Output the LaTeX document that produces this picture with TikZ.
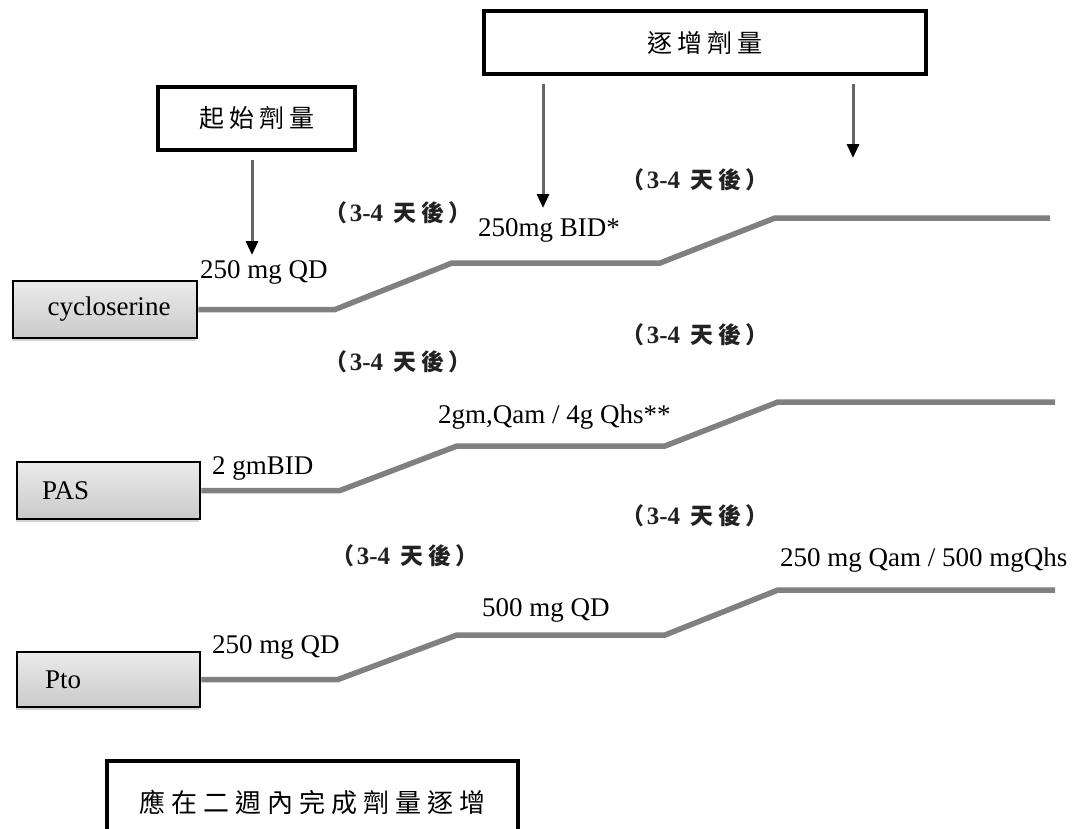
\documentclass[tikz,border=0pt]{standalone}
\usepackage{fontspec}
\setmainfont{Liberation Serif}
\newfontfamily\cjk{Noto Sans CJK TC}
\usetikzlibrary{arrows.meta,shadows}
\definecolor{boxtop}{HTML}{EBEBEB}
\definecolor{boxbot}{HTML}{CACACA}
\definecolor{dosegray}{HTML}{808080}
\definecolor{arrowgray}{HTML}{666666}
\definecolor{dlycol}{HTML}{222222}
\newcommand\dlay{{\cjk\bfseries （}\kern2pt{\fontsize{25}{28}\selectfont\bfseries 3-4}\kern10pt{\cjk\bfseries 天\kern5pt 後\kern4pt ）}}
\begin{document}
\begin{tikzpicture}[x=1pt,y=-1pt,
  every node/.style={inner sep=0pt},
  lbl/.style={anchor=west, font=\fontsize{27}{30}\selectfont},
  dly/.style={font=\fontsize{23}{26}\selectfont, text=dlycol},
  drugbox/.style={draw=black, line width=2.8pt, top color=boxtop, bottom color=boxbot,
    minimum width=183pt, minimum height=57pt,
    drop shadow={shadow xshift=-1.5pt, shadow yshift=-3pt, opacity=0.35, fill=gray},
    font=\fontsize{27}{30}\selectfont},
  titlebox/.style={draw=black, line width=3.5pt, fill=white,
    drop shadow={shadow xshift=2pt, shadow yshift=-2pt, opacity=0.3, fill=gray},
    font=\cjk\fontsize{25}{30}\selectfont},
  dose/.style={draw=dosegray, line width=5.5pt},
  arrdown/.style={draw=arrowgray, line width=3pt, shorten <=8pt,
    -{Triangle[length=14pt,width=12pt,black]}}
]
\useasboundingbox (0,0) rectangle (1074,828);
\clip (0,0) rectangle (1074,828);

% title boxes
\node[titlebox, minimum width=442pt, minimum height=63pt] (inc) at (705,42.5)
  {逐\kern5pt 增\kern5pt 劑\kern5pt 量};
\node[titlebox, minimum width=197pt, minimum height=63pt] (start) at (256.5,118.5)
  {起\kern5pt 始\kern5pt 劑\kern5pt 量};

% arrows
\coordinate (a1) at (252,255);
\coordinate (a2) at (543,208);
\coordinate (a3) at (853,158);
\draw[arrdown] (start.south -| a1) -- (a1);
\draw[arrdown] (inc.south -| a2) -- (a2);
\draw[arrdown] (inc.south -| a3) -- (a3);

% drug boxes
\node[drugbox, text width=150pt, inner xsep=17pt, align=center] (cyc) at (105,309.5) {\hspace*{8pt}cycloserine};
\node[drugbox, text width=133pt, inner xsep=25pt, align=left] (pas) at (108.5,490.5) {PAS};
\node[drugbox, minimum height=55pt, text width=127pt, inner xsep=28pt, align=left] (pto) at (108.5,679.5) {Pto};

% dose lines
\coordinate (c1) at (335,309.5); \coordinate (c2) at (452,263);
\coordinate (c3) at (660,263);   \coordinate (c4) at (775,218);
\coordinate (c5) at (1050,218);
\draw[dose] (cyc.east) -- (c1) -- (c2) -- (c3) -- (c4) -- (c5);

\coordinate (p1) at (340,490.5); \coordinate (p2) at (457,446);
\coordinate (p3) at (665,446);   \coordinate (p4) at (778,402);
\coordinate (p5) at (1055,402);
\draw[dose] (pas.east) -- (p1) -- (p2) -- (p3) -- (p4) -- (p5);

\coordinate (t1) at (338,679.5); \coordinate (t2) at (457,635);
\coordinate (t3) at (665,635);   \coordinate (t4) at (778,590);
\coordinate (t5) at (1055,590);
\draw[dose] (pto.east) -- (t1) -- (t2) -- (t3) -- (t4) -- (t5);

% dose labels
\node[lbl] (l1) at (200,272) {250 mg QD};
\node[lbl] (l2) at (478,230) {250mg BID*};
\node[lbl] (l3) at (212,468) {2 gmBID};
\node[lbl] (l4) at (438,417) {2gm,Qam / 4g Qhs**};
\node[lbl] (l5) at (212,647) {250 mg QD};
\node[lbl] (l6) at (482,610) {500 mg QD};
\node[lbl] (l7) at (780,560) {250 mg Qam / 500 mgQhs};

% delay labels
\node[dly] (d1) at (398,213) {\dlay};
\node[dly] (d2) at (695,180) {\dlay};
\node[dly] (d3) at (695,335) {\dlay};
\node[dly] (d4) at (398,362) {\dlay};
\node[dly] (d5) at (695,516) {\dlay};
\node[dly] (d6) at (405,556) {\dlay};

% note box
\node[titlebox, minimum width=411pt, minimum height=82pt, font=\cjk\fontsize{26}{30}\selectfont] (note) at (312.5,802)
  {應\kern6pt 在\kern6pt 二\kern6pt 週\kern6pt 內\kern6pt 完\kern6pt 成\kern6pt 劑\kern6pt 量\kern6pt 逐\kern6pt 增};
\end{tikzpicture}
\end{document}
